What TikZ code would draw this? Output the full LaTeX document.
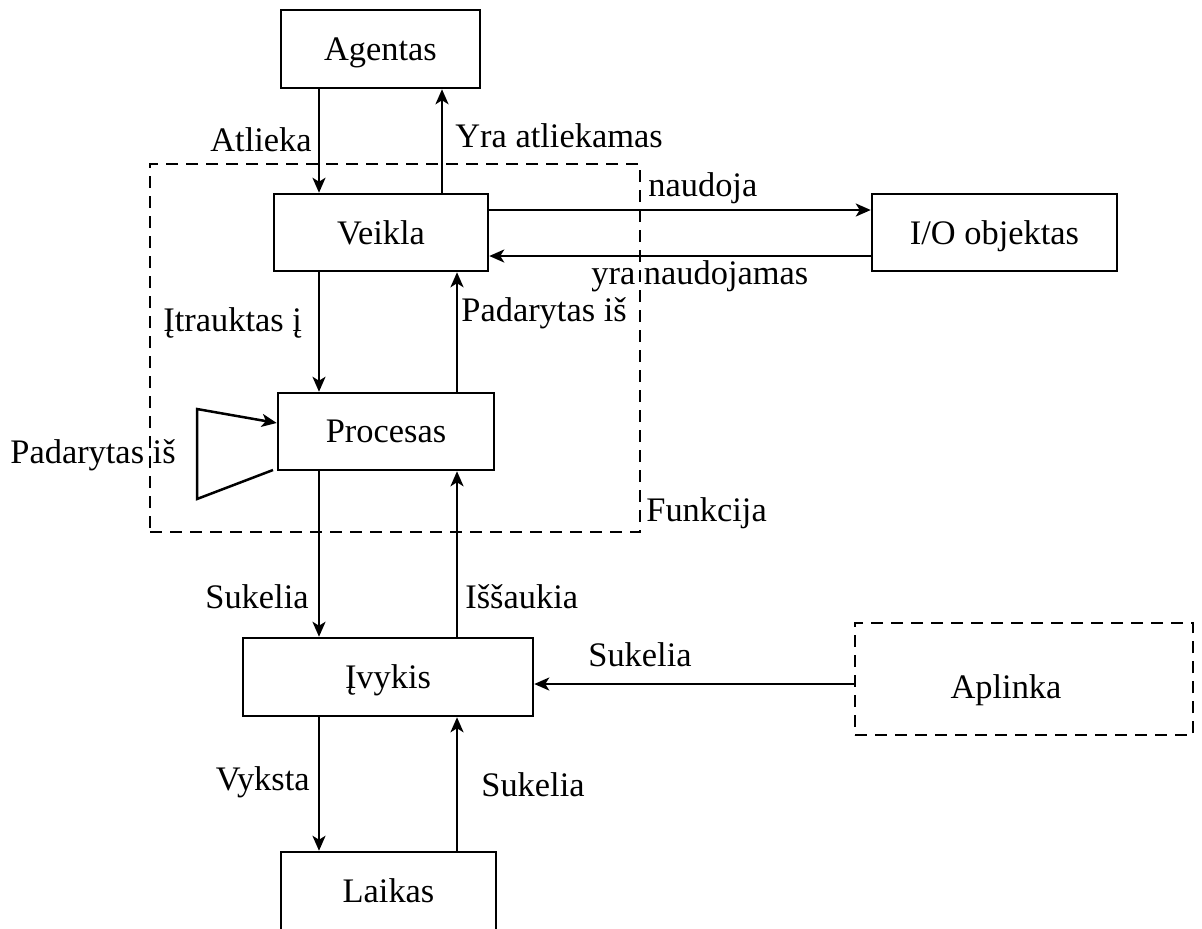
\documentclass[tikz,border=0pt]{standalone}
\usepackage{fontspec}
\setmainfont{Liberation Serif}
\usetikzlibrary{arrows.meta}
\begin{document}
\begin{tikzpicture}[x=0.5pt,y=-0.5pt,
  txt/.style={font=\fontsize{17.2}{20}\selectfont},
  box/.style={draw, line width=1.25pt, txt, inner sep=0pt, text depth=0pt},
  dashbox/.style={draw, line width=1.1pt, dash pattern=on 6pt off 4pt, inner sep=0pt},
  arr/.style={line width=1.25pt, -{Stealth[length=7.5pt,width=6.5pt,inset=2pt]}},
  lbl/.style={txt, inner sep=0pt}]
\clip (0,0) rectangle (1202,928);

% main boxes
\node[box, minimum width=99.5pt, minimum height=39pt] (agentas) at (380.5,49) {Agentas};
\node[box, minimum width=107pt, minimum height=38.5pt] (veikla) at (381,232.5) {Veikla};
\node[box, minimum width=122.5pt, minimum height=38.5pt] (io) at (994.5,232.5) {I/O objektas};
\node[box, minimum width=108pt, minimum height=38.5pt] (procesas) at (386,431.5) {Procesas};
\node[box, minimum width=145pt, minimum height=39pt] (ivykis) at (388,677) {Įvykis};
\node[box, minimum width=107.5pt, minimum height=39pt] (laikas) at (388.5,891) {Laikas};

% dashed groups
\node[dashbox, minimum width=245pt, minimum height=184pt] (funkcija) at (395,348) {};
\node[dashbox, minimum width=169pt, minimum height=56pt] (aplinkabox) at (1024,679) {};
\node[lbl] (aplinka) at (1006,690) {Aplinka};

% column / row positions of the connectors
\coordinate (cL) at (319,0);
\coordinate (cA) at (442,0);
\coordinate (cR) at (457,0);
\coordinate (rU) at (0,210);
\coordinate (rD) at (0,256);
\coordinate (rE) at (0,684);

% connectors
\draw[arr] (agentas.south -| cL) -- (veikla.north -| cL);
\draw[arr] (veikla.north -| cA) -- (agentas.south -| cA);
\draw[arr] (veikla.east |- rU) -- (io.west |- rU);
\draw[arr] (io.west |- rD) -- (veikla.east |- rD);
\draw[arr] (veikla.south -| cL) -- (procesas.north -| cL);
\draw[arr] (procesas.north -| cR) -- (veikla.south -| cR);
\draw[arr] (procesas.south -| cL) -- (ivykis.north -| cL);
\draw[arr] (ivykis.north -| cR) -- (procesas.south -| cR);
\draw[arr] (aplinkabox.west |- rE) -- (ivykis.east |- rE);
\draw[arr] (ivykis.south -| cL) -- (laikas.north -| cL);
\draw[arr] (laikas.north -| cR) -- (ivykis.south -| cR);

% open funnel into Procesas
\coordinate (t1) at (197,409);
\coordinate (t2) at (197,499);
\coordinate (t3) at (273,470);
\coordinate (t4) at (0,423);
\draw[arr, line join=miter] (t3) -- (t2) -- (t1) -- (procesas.west |- t4);

% labels
\node[lbl, anchor=east] (l1) at (312,140) {Atlieka};
\node[lbl, anchor=west] (l2) at (455,136) {Yra atliekamas};
\node[lbl, anchor=west] (l3) at (648,188) {naudoja};
\node[lbl, anchor=west] (l4) at (591,276) {yra naudojamas};
\node[lbl, anchor=west] (l5) at (163,323) {Įtrauktas į};
\node[lbl, anchor=west] (l6) at (461,313) {Padarytas iš};
\node[lbl, anchor=west] (l7) at (10,455) {Padarytas iš};
\node[lbl, anchor=west] (l8) at (646,513) {Funkcija};
\node[lbl, anchor=east] (l9) at (309,597) {Sukelia};
\node[lbl, anchor=west] (l10) at (465,597) {Iššaukia};
\node[lbl, anchor=west] (l11) at (588,655) {Sukelia};
\node[lbl, anchor=east] (l12) at (310,782) {Vyksta};
\node[lbl, anchor=west] (l13) at (481,785) {Sukelia};
\end{tikzpicture}
\end{document}
